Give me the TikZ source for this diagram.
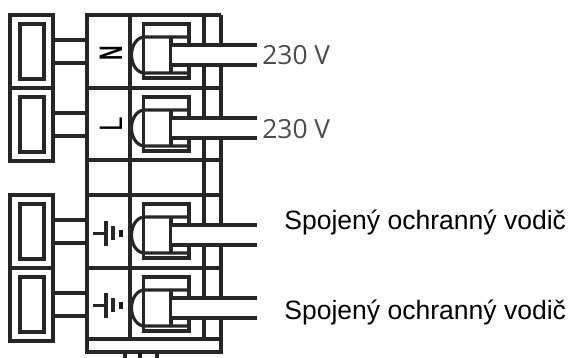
\documentclass[tikz,border=0pt]{standalone}
\usepackage{fontspec}
\setmainfont{Liberation Sans}
\newfontfamily\voltfont{Open Sans}
\tikzset{
  wire/.style={line width=1.8pt,black!85},
  volt/.style={anchor=west,inner sep=0pt,text=black!70,font=\voltfont\fontsize{15}{15}\selectfont},
  vodic/.style={anchor=west,inner sep=0pt,text=black,font=\fontsize{15.1}{15}\selectfont},
  sign/.style={inner sep=0pt,rotate=90,font=\fontsize{18.5}{18}\selectfont}
}
\begin{document}
\begin{tikzpicture}[x=0.02cm,y=-0.02cm]
 \useasboundingbox (0,0) rectangle (568,358);
 % frame of the terminal block
 \draw[wire] (87,15) -- (221,15);
 \draw[wire] (87,13) -- (87,352) -- (221,352) -- (221,15);
 \draw[wire] (130,13) -- (130,339);
 \draw[wire] (204,13) -- (204,339);
 \foreach \y in {88,160,195,268,339}
  \draw[wire] (87,\y) -- (221,\y);
 % stubs at the bottom
 \draw[wire] (125,352) -- (125,358);
 \draw[line width=2.8pt,black!90] (140,352) -- (140,358);
 \draw[wire] (157,352) -- (157,358);
 % one row per terminal
 \foreach \d in {0,73,180,253}{
  \begin{scope}[yshift={-0.02cm*\d}]
  % plug on the left
  \draw[wire] (10,15) rectangle (53,88);
  \draw[wire] (20,24) rectangle (44,79);
  \draw[wire] (53,40) -- (87,40);
  \draw[wire] (53,63) -- (87,63);
  % clamp
  \draw[wire] (143.5,24) rectangle (189,78);
  \draw[wire] (189,37) -- (144.5,37) arc (270:90:13 and 18) -- (189,73);
  \draw[wire] (171,37) -- (171,73);
  % wire going out
  \fill[white] (172,46) rectangle (257,64);
  \draw[wire] (171,45) -- (257,45);
  \draw[wire] (171,65) -- (257,65);
  \end{scope}
 }
 % markings
 \node[sign] (n) at (111,53) {\bfseries\scalebox{.62}[1]{N}};
 \node[sign] (l) at (111,124) {\scalebox{.8}[1]{L}};
 \foreach \d in {0,72}{
  \draw[wire] (93,233.5+\d) -- (106,233.5+\d);
  \draw[wire] (106,221+\d) -- (106,246+\d);
  \draw[wire] (113,226+\d) -- (113,240+\d);
  \draw[line width=2.4pt,black!90] (121,230+\d) -- (121,237+\d);
 }
 % labels
 \node[volt] (u1) at (262,55) {230 V};
 \node[volt] (u2) at (262,129) {230 V};
 \node[vodic] (v1) at (284,222) {Spojený ochranný vodič};
 \node[vodic] (v2) at (284,312) {Spojený ochranný vodič};
\end{tikzpicture}
\end{document}
